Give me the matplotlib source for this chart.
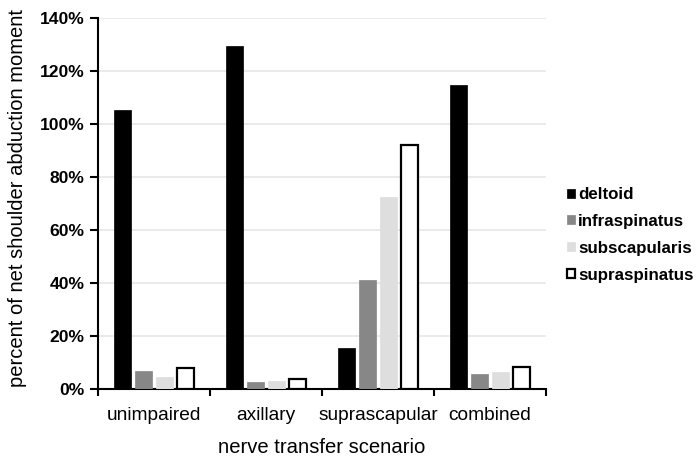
import numpy as np
import matplotlib.pyplot as plt
import matplotlib.ticker as tck

plt.rcParams['font.family'] = ['Liberation Sans', 'DejaVu Sans']

# valeurs (%)
scenarios = ["unimpaired", "axillary", "suprascapular", "combined"]
muscles = ["deltoid", "infraspinatus", "subscapularis", "supraspinatus"]
deltoid = [105.5, 129.5, 15.4, 114.6]
infraspinatus = [6.7, 2.5, 41.3, 5.6]
subscapularis = [4.6, 3.0, 72.6, 6.6]
supraspinatus = [7.8, 3.8, 92.2, 8.4]

series = [deltoid, infraspinatus, subscapularis, supraspinatus]
couleurs = ["black", "#878787", "#dedede", "white"]
bords = ["black", "#878787", "#dedede", "black"]

fig = plt.figure(figsize=(7, 4.67), dpi=100)
ax = fig.add_axes([0.14, 0.167, 0.64, 0.794])

x = np.arange(len(scenarios))
pas = 0.1875
largeur = 0.155
for i, (vals, nom) in enumerate(zip(series, muscles)):
    ax.bar(x + (i - 1.5) * pas, vals, width=largeur, color=couleurs[i],
           edgecolor=bords[i], linewidth=1.6 if i == 3 else 0.5,
           label=nom, zorder=3)

ax.set_xlim(-0.5, 3.5)
ax.set_ylim(0, 140)
ax.yaxis.set_major_locator(tck.MultipleLocator(20))
ax.yaxis.set_major_formatter(tck.FuncFormatter(lambda v, p: f"{v:.0f}%"))
ax.grid(axis='y', color='#e6e6e6', linewidth=1.2, zorder=0)

ax.set_xticks(np.arange(-0.5, 4, 1))
ax.set_xticklabels([])
ax.set_xticks(x, minor=True)
ax.set_xticklabels(scenarios, minor=True)
ax.tick_params(axis='x', which='minor', length=0, pad=13, labelsize=13.8)
ax.tick_params(axis='x', which='major', length=5, width=1.5, direction='out')
ax.tick_params(axis='y', length=6, width=1.5, labelsize=12.6, pad=3.5)
for lab in ax.get_yticklabels():
    lab.set_fontweight('bold')

for s in ['top', 'right']:
    ax.spines[s].set_visible(False)
for s in ['left', 'bottom']:
    ax.spines[s].set_linewidth(1.5)

ax.set_ylabel("percent of net shoulder abduction moment", fontsize=14.5, va='center')
ax.yaxis.set_label_coords(-0.179, 0.515)
ax.set_xlabel("nerve transfer scenario", fontsize=14.6, va='center')
ax.xaxis.set_label_coords(0.5, -0.159)

fig.legend(loc='center left', bbox_to_anchor=(0.81, 0.497), frameon=False,
           prop={'size': 12.2, 'weight': 'bold'}, handlelength=0.45,
           handleheight=0.45, handletextpad=0.2, labelspacing=0.7,
           borderaxespad=0, borderpad=0)

fig.savefig("out.png", dpi=100)
